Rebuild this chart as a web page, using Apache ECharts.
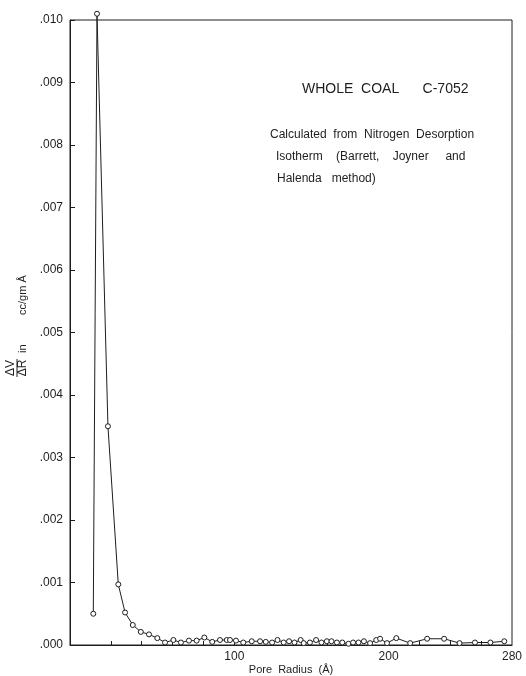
<!DOCTYPE html>
<html>
<head>
<meta charset="utf-8">
<script src="https://cdn.jsdelivr.net/npm/echarts@6/dist/echarts.min.js"></script>
<style>html,body{margin:0;padding:0;background:#fff}#c{width:526px;height:676px}</style>
</head>
<body>
<div id="c"></div>
<script>
// Pore radius (Å)
const radius = [8.6, 11, 18.1, 24.8, 29.2, 34.2, 39.4, 44.7, 50.1, 55.1, 60.5, 65.4, 70.6, 75.6, 80.6, 85.7, 90.7, 95.1, 97.2, 101.1, 105.8, 111.3, 116.7, 120.4, 124.5, 128, 132, 135.5, 139, 143, 145, 149, 153, 156.5, 160, 163, 166.5, 170, 174, 177, 180.5, 184, 188, 192, 194.5, 199, 205, 214, 225, 236, 246, 256, 266, 275];
// ΔV/ΔR (cc/gm Å)
const dvdr = [0.0005, 0.0101, 0.0035, 0.00097, 0.00052, 0.00032, 0.00021, 0.00017, 0.00011, 0.00004, 0.00008, 0.00004, 0.00007, 0.00007, 0.00012, 0.00005, 0.00008, 0.00008, 0.00008, 0.00007, 0.00004, 0.00006, 0.00006, 0.00005, 0.00004, 0.00008, 0.00004, 0.00006, 0.00004, 0.00008, 0.00003, 0.00004, 0.00008, 0.00004, 0.00006, 0.00006, 0.00004, 0.00004, 0.00002, 0.00004, 0.00004, 0.00006, 0.00003, 0.00008, 0.0001, 0.00003, 0.00011, 0.00003, 0.0001, 0.0001, 0.00003, 0.00004, 0.00004, 0.00006];
const xLabelValues = [100, 200, 280];
const xTickValues = [20, 40, 60, 80, 100, 120, 140, 160, 180, 200, 220, 240, 260];

const ink = '#1e1e1e';
const font = 'Liberation Sans';
const chart = echarts.init(document.getElementById('c'), null, {renderer: 'canvas'});
const data = radius.map((r, i) => [r, dvdr[i]]);

chart.setOption({
  animation: false,
  backgroundColor: '#fff',
  grid: {left: 70, right: 14, top: 20, bottom: 31, show: true, borderColor: ink, borderWidth: 1,
    backgroundColor: 'transparent', containLabel: false, outerBoundsMode: 'none'},
  xAxis: {
    type: 'value', min: -6.5, max: 280,
    name: 'Pore  Radius  (Å)', nameLocation: 'middle', nameGap: 19, nameMoveOverlap: false,
    nameTextStyle: {color: ink, fontSize: 11, fontFamily: font, verticalAlign: 'top'},
    axisLine: {show: true, onZero: false, lineStyle: {color: ink, width: 1}},
    axisTick: {show: true, inside: true, length: 4, lineStyle: {color: ink}, customValues: xTickValues},
    axisLabel: {color: ink, fontSize: 12, fontFamily: font, margin: 6, customValues: xLabelValues},
    splitLine: {show: false}
  },
  yAxis: {
    type: 'value', min: 0, max: 0.010, interval: 0.001,
    axisLine: {show: true, onZero: false, lineStyle: {color: ink, width: 1}},
    axisTick: {show: true, inside: true, length: 5, lineStyle: {color: ink}},
    axisLabel: {color: ink, fontSize: 12, fontFamily: font, margin: 7,
      formatter: v => v.toFixed(3).replace(/^0/, '')},
    splitLine: {show: false}
  },
  series: [{
    type: 'line', data: data, clip: false,
    symbol: 'circle', symbolSize: 5, showAllSymbol: true,
    lineStyle: {color: ink, width: 1},
    itemStyle: {color: '#fff', borderColor: ink, borderWidth: 1}
  }],
  graphic: [
    {type: 'text', left: 302, top: 82, style: {text: 'WHOLE  COAL      C-7052', fill: ink, font: '14px "Liberation Sans"'}},
    {type: 'text', left: 270, top: 129, style: {text: 'Calculated  from  Nitrogen  Desorption', fill: ink, font: '12px "Liberation Sans"'}},
    {type: 'text', left: 276, top: 151, style: {text: 'Isotherm    (Barrett,    Joyner     and', fill: ink, font: '12px "Liberation Sans"'}},
    {type: 'text', left: 277, top: 173, style: {text: 'Halenda   method)', fill: ink, font: '12px "Liberation Sans"'}},
    {type: 'group', x: 17, y: 368, rotation: Math.PI / 2, children: [
      {type: 'text', x: 0, y: -6, style: {text: 'ΔV', fill: ink, font: '12px "Liberation Sans"', align: 'center', verticalAlign: 'middle'}},
      {type: 'line', shape: {x1: -9, y1: 0, x2: 9, y2: 0}, style: {stroke: ink, lineWidth: 1}},
      {type: 'text', x: 0, y: 6, style: {text: 'ΔR', fill: ink, font: '12px "Liberation Sans"', align: 'center', verticalAlign: 'middle'}},
      {type: 'text', x: 15, y: 6, style: {text: 'in', fill: ink, font: '11px "Liberation Sans"', align: 'left', verticalAlign: 'middle'}},
      {type: 'text', x: 53, y: 6, style: {text: 'cc/gm Å', fill: ink, font: '11px "Liberation Sans"', align: 'left', verticalAlign: 'middle'}}
    ]}
  ]
});
</script>
</body>
</html>
